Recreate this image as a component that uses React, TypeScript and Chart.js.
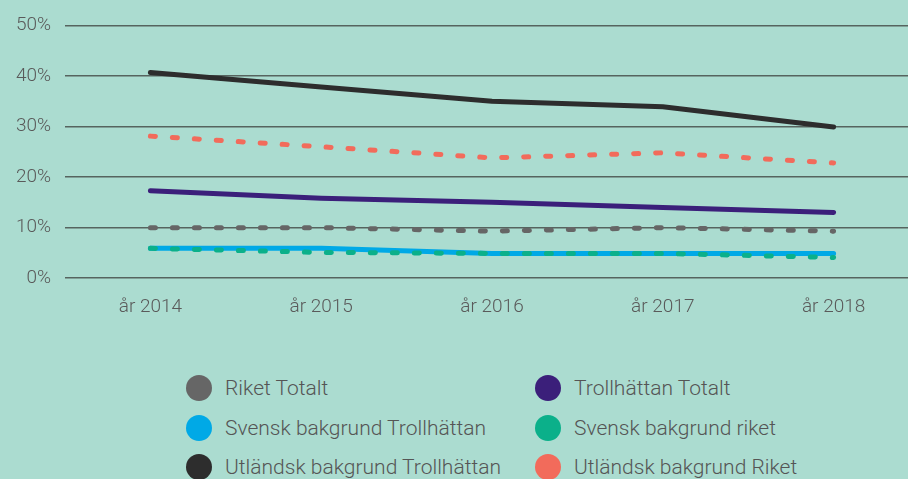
import React, { useEffect, useRef } from "react";
import { Chart, registerables } from "chart.js";

Chart.register(...registerables);

const categories = ["år 2014", "år 2015", "år 2016", "år 2017", "år 2018"];
const yTicks = [0, 10, 20, 30, 40, 50];

const riketTotalt = [10.0, 10.0, 9.3, 10.0, 9.3];
const trollhattanTotalt = [17.3, 15.8, 15.0, 14.0, 13.0];
const svenskTrollhattan = [5.9, 5.9, 4.9, 4.9, 4.9];
const svenskRiket = [5.9, 5.1, 4.9, 4.9, 4.1];
const utlandskTrollhattan = [40.7, 37.8, 35.0, 33.9, 29.9];
const utlandskRiket = [28.1, 26.0, 23.8, 24.8, 22.8];

const seriesNames = [
  "Riket Totalt",
  "Trollhättan Totalt",
  "Svensk bakgrund Trollhättan",
  "Svensk bakgrund riket",
  "Utländsk bakgrund Trollhättan",
  "Utländsk bakgrund Riket",
];
const seriesColors = ["#666666", "#3b1f7a", "#00a9e6", "#0bb08a", "#2d2d2d", "#f26b5b"];
const seriesData = [riketTotalt, trollhattanTotalt, svenskTrollhattan, svenskRiket, utlandskTrollhattan, utlandskRiket];
const seriesDashed = [true, false, false, true, false, true];
const seriesOrder = [1, 2, 4, 3, 0, 0];

const BG = "#abdcd0";
const FONT = "Roboto, 'Noto Sans', sans-serif";

export default function App() {
  const ref = useRef<HTMLCanvasElement>(null);
  useEffect(() => {
    if (!ref.current) return;
    const chart = new Chart(ref.current, {
      type: "line",
      data: {
        labels: categories,
        datasets: seriesNames.map((name, i) => ({
          label: name,
          data: seriesData[i],
          borderColor: seriesColors[i],
          backgroundColor: seriesColors[i],
          borderWidth: 5,
          borderDash: seriesDashed[i] ? [5, 17] : [],
          borderCapStyle: "round" as const,
          borderJoinStyle: "round" as const,
          pointRadius: 0,
          tension: 0,
          order: seriesOrder[i],
          fill: false,
        })),
      },
      options: {
        responsive: false,
        animation: false,
        devicePixelRatio: 1,
        layout: { padding: { top: 25, bottom: 12, left: 0, right: 0 } },
        plugins: { legend: { display: false }, tooltip: { enabled: false } },
        scales: {
          x: {
            offset: true,
            grid: { display: false, drawTicks: false },
            border: { display: false },
            ticks: { color: "#5a5a5a", font: { family: FONT, size: 19, weight: 300 }, padding: 18 },
          },
          y: {
            min: 0,
            max: 50,
            afterFit: (s: any) => { s.width = 65; },
            afterBuildTicks: (s: any) => { s.ticks = yTicks.map((v) => ({ value: v })); },
            grid: { color: "#56645f", lineWidth: 1.5, drawTicks: false },
            border: { display: false },
            ticks: {
              color: "#5a5a5a",
              font: { family: FONT, size: 19, weight: 300 },
              padding: 14,
              callback: (v: any) => `${v}%`,
            },
          },
        },
      },
    });
    return () => chart.destroy();
  }, []);

  const legendCols = [200, 549];
  const legendRows = [388, 428, 467];

  return (
    <div style={{ position: "fixed", left: 0, top: 0, width: 908, height: 479, overflow: "hidden", background: BG }}>
      <canvas ref={ref} width={919} height={349} style={{ position: "absolute", left: 0, top: 0, width: 919, height: 349 }} />
      {seriesNames.map((name, i) => {
        const cx = legendCols[i % 2];
        const cy = legendRows[Math.floor(i / 2)];
        return (
          <div key={name} style={{ position: "absolute", left: cx - 14, top: cy - 13, height: 26, display: "flex", alignItems: "center", whiteSpace: "nowrap" }}>
            <span style={{ width: 26, height: 26, borderRadius: "50%", background: seriesColors[i], display: "inline-block", flex: "none" }} />
            <span style={{ marginLeft: 13, fontFamily: FONT, fontSize: 21, fontWeight: 300, color: "#555555" }}>{name}</span>
          </div>
        );
      })}
    </div>
  );
}
